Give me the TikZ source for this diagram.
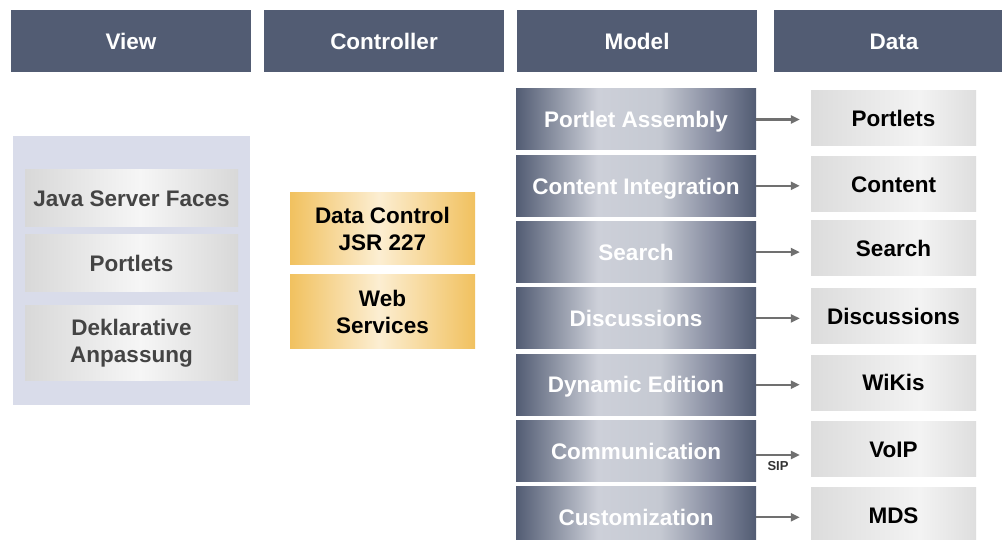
\documentclass[tikz,border=0pt]{standalone}
\usepackage{fontspec}
\setmainfont{Liberation Sans}
\usetikzlibrary{arrows.meta}
\definecolor{hdr}{HTML}{525C73}
\definecolor{mlight}{HTML}{CDD0D9}
\definecolor{mlight2}{HTML}{C5C9D2}
\definecolor{mmid}{HTML}{868CA0}
\definecolor{dleft}{HTML}{DCDCDC}
\definecolor{dmid}{HTML}{F3F3F3}
\definecolor{dright}{HTML}{DEDEDE}
\definecolor{vleft}{HTML}{D8D8D8}
\definecolor{vmid}{HTML}{F6F6F6}
\definecolor{oedge}{HTML}{F1C15F}
\definecolor{omid}{HTML}{FCEED2}
\definecolor{viewbg}{HTML}{D9DCEA}
\definecolor{vtext}{HTML}{444444}
\definecolor{arrowc}{HTML}{707070}
\definecolor{siptext}{HTML}{333333}
\pgfdeclarehorizontalshading{modelsh}{100bp}{color(0bp)=(hdr); color(25bp)=(hdr); color(42bp)=(mlight); color(55bp)=(mlight2); color(66bp)=(mmid); color(75bp)=(hdr); color(100bp)=(hdr)}
\pgfdeclarehorizontalshading{datash}{100bp}{color(0bp)=(dleft); color(25bp)=(dleft); color(58bp)=(dmid); color(75bp)=(dright); color(100bp)=(dright)}
\pgfdeclarehorizontalshading{viewsh}{100bp}{color(0bp)=(vleft); color(25bp)=(vleft); color(52bp)=(vmid); color(75bp)=(vleft); color(100bp)=(vleft)}
\pgfdeclarehorizontalshading{ctrlsh}{100bp}{color(0bp)=(oedge); color(25bp)=(oedge); color(49bp)=(omid); color(75bp)=(oedge); color(100bp)=(oedge)}
\newcommand{\boxfont}{\fontsize{22.5}{27}\selectfont\bfseries}
\tikzset{
  base/.style={rectangle, inner sep=0pt, font=\boxfont},
  oneline/.style={text height=16.5pt, text depth=0pt},
  multi/.style={align=center},
  hdrbox/.style={base, oneline, fill=hdr, text=white, minimum width=240pt, minimum height=62pt},
  modelbox/.style={base, oneline, shading=modelsh, shade, text=white, minimum width=240pt, minimum height=61pt},
  databox/.style={base, oneline, shading=datash, shade, text=black, minimum width=165pt, minimum height=55pt},
  viewbox/.style={base, shading=viewsh, shade, text=vtext, minimum width=213pt},
  ctrlbox/.style={base, multi, shading=ctrlsh, shade, text=black, minimum width=185pt},
  flow/.style={draw=arrowc, line width=2.2pt, -{Triangle[length=9pt,width=8pt]}, shorten >=11pt},
  siplabel/.style={font=\fontsize{13}{15}\selectfont\bfseries, text=siptext, inner sep=0pt}
}
\begin{document}
\begin{tikzpicture}[x=1pt,y=-1pt]
\useasboundingbox (0,0) rectangle (1002,540);
\clip (0,0) rectangle (1002,540);
\fill[white] (0,0) rectangle (1002,540);
% headers
\node[hdrbox] (hview) at (131,41) {View};
\node[hdrbox] (hctrl) at (384,41) {Controller};
\node[hdrbox] (hmodel) at (637,41) {Model};
\node[hdrbox] (hdata) at (894,41) {Data};
% view panel
\node[fill=viewbg, inner sep=0pt, minimum width=237pt, minimum height=269pt] (vpanel) at (131.5,270.5) {};
\node[viewbox, oneline, minimum height=57pt] (vjsf) at (131.5,198.5) {Java Server Faces};
\node[viewbox, oneline, minimum height=57pt] (vport) at (131.5,263.5) {Portlets};
\node[viewbox, multi, minimum height=74pt] (vdekl) at (131.5,343) {Deklarative\\Anpassung};
% controller
\node[ctrlbox, minimum height=72pt] (cdc) at (382.5,229) {Data Control\\JSR 227};
\node[ctrlbox, minimum height=73pt] (cws) at (382.5,311.5) {Web\\Services};
% model
\node[modelbox] (m1) at (636,119.5) {Portlet Assembly};
\node[modelbox] (m2) at (636,185.8) {Content Integration};
\node[modelbox] (m3) at (636,252.1) {Search};
\node[modelbox] (m4) at (636,318.4) {Discussions};
\node[modelbox] (m5) at (636,384.7) {Dynamic Edition};
\node[modelbox] (m6) at (636,451) {Communication};
\node[modelbox] (m7) at (636,517.3) {Customization};
% data
\node[databox] (d1) at (893.5,118) {Portlets};
\node[databox] (d2) at (893.5,183.8) {Content};
\node[databox] (d3) at (893.5,248) {Search};
\node[databox] (d4) at (893.5,316) {Discussions};
\node[databox] (d5) at (893.5,382.5) {WiKis};
\node[databox] (d6) at (893.5,449) {VoIP};
\node[databox] (d7) at (893.5,515.3) {MDS};
% connectors
\draw[flow] (m1.east) -- (m1.east -| d1.west);
\draw[flow] (m2.east) -- (m2.east -| d2.west);
\draw[flow] (m3.east) -- (m3.east -| d3.west);
\draw[flow] (m4.east) -- (m4.east -| d4.west);
\draw[flow] (m5.east) -- (m5.east -| d5.west);
\draw[flow] ([yshift=-4pt]m6.east) -- ([yshift=-4pt]m6.east -| d6.west) node[siplabel, pos=0.4, below=5pt] (sip) {SIP};
\draw[flow] (m7.east) -- (m7.east -| d7.west);
\end{tikzpicture}
\end{document}
